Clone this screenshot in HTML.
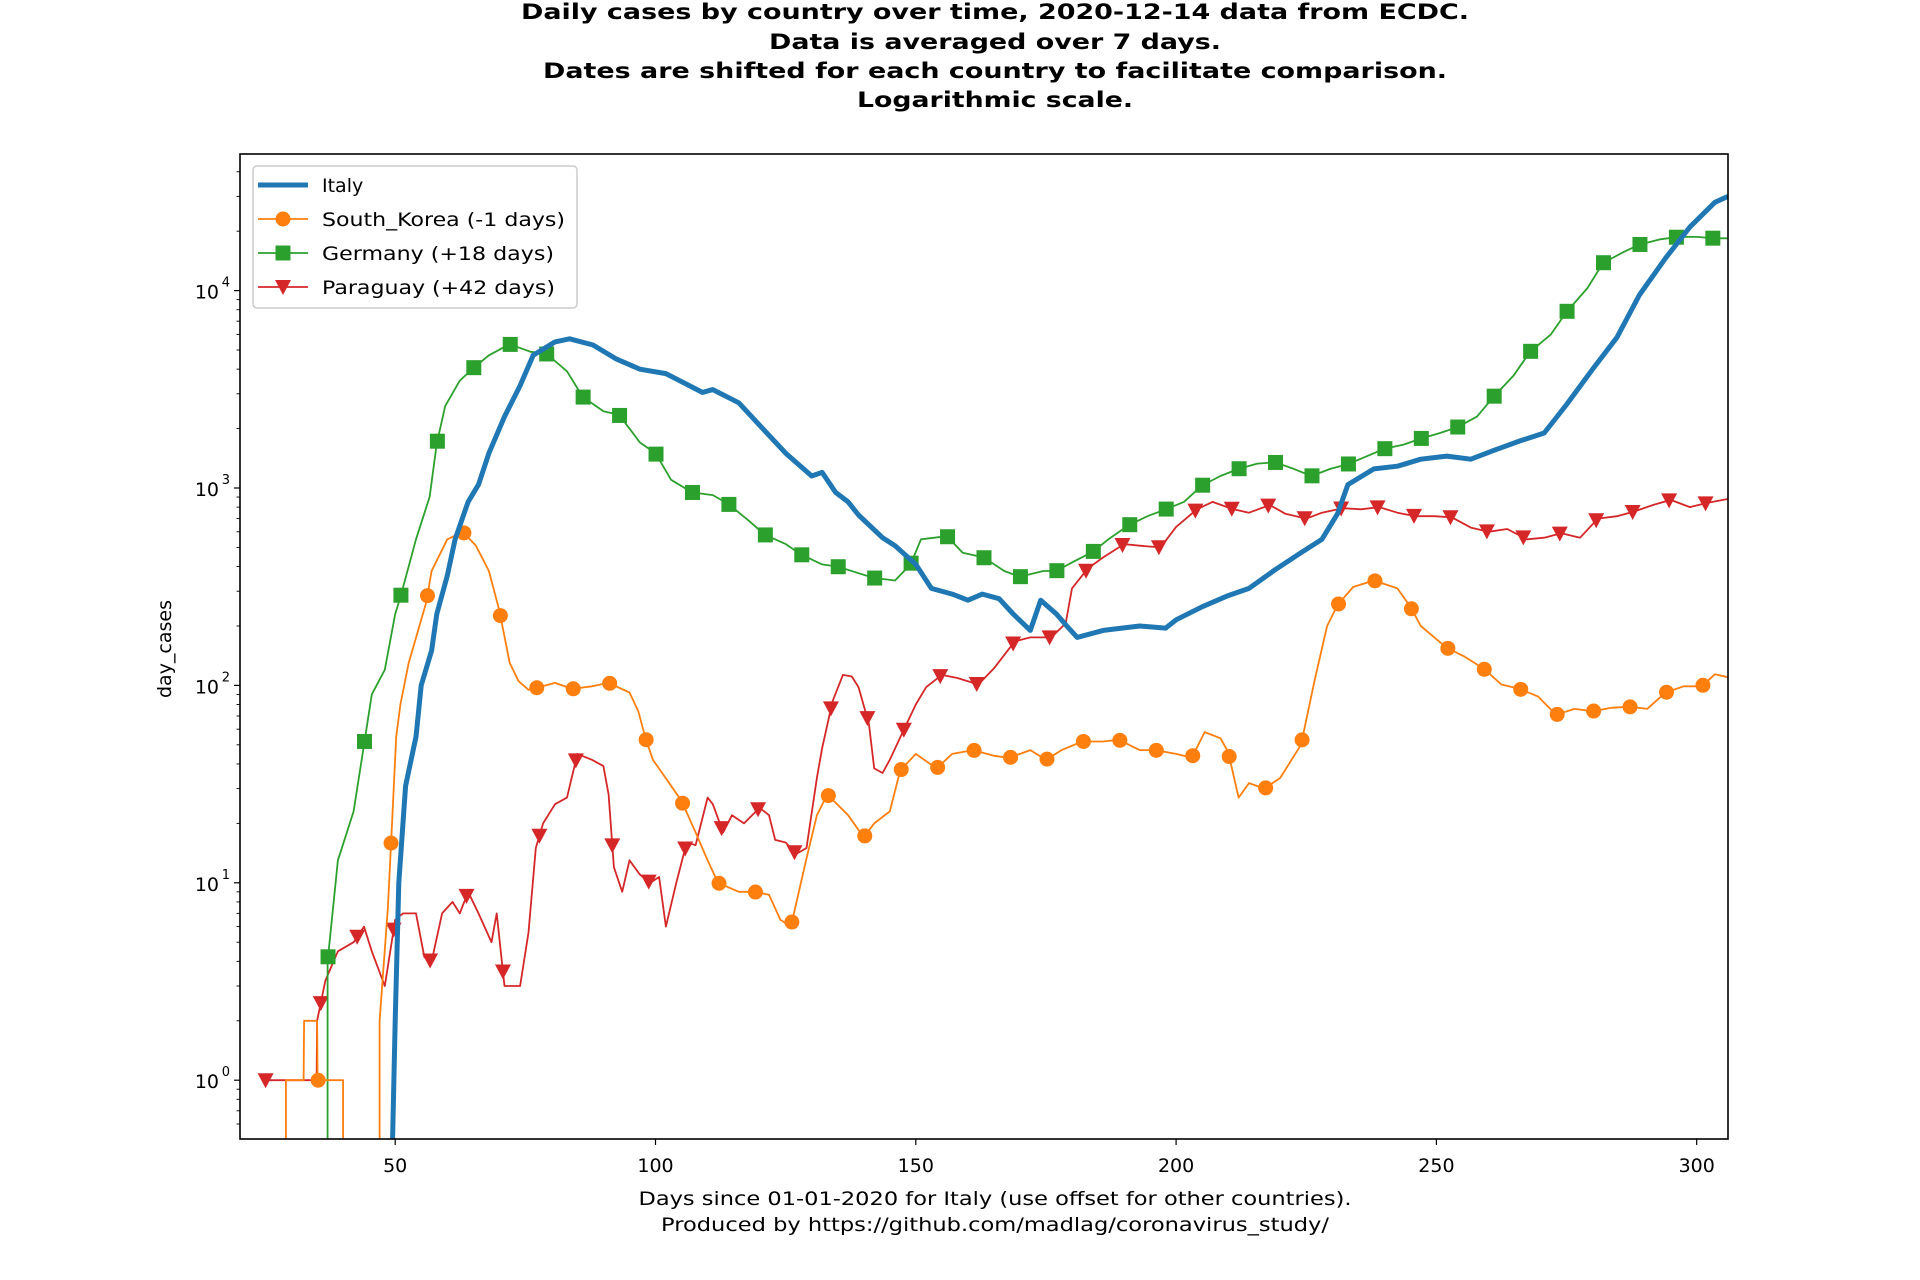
<!DOCTYPE html>
<html><head><meta charset="utf-8"><style>
html,body{margin:0;padding:0;background:#fff;width:1920px;height:1280px;overflow:hidden;}
svg{display:block;overflow:hidden;font-family:"DejaVu Sans","Liberation Sans",sans-serif;}
</style></head><body>
<svg id="chart" width="1920" height="1280" viewBox="0 0 1920 1280" xmlns="http://www.w3.org/2000/svg">
<g font-weight="bold" font-size="21" text-anchor="middle" fill="#000">
<text x="995" y="19" textLength="948" lengthAdjust="spacingAndGlyphs">Daily cases by country over time, 2020-12-14 data from ECDC.</text>
<text x="995" y="49" textLength="452" lengthAdjust="spacingAndGlyphs">Data is averaged over 7 days.</text>
<text x="995" y="78" textLength="904" lengthAdjust="spacingAndGlyphs">Dates are shifted for each country to facilitate comparison.</text>
<text x="995" y="107" textLength="276" lengthAdjust="spacingAndGlyphs">Logarithmic scale.</text>
</g>
<defs><clipPath id="plotclip"><rect x="240" y="154" width="1488" height="985"/></clipPath></defs>
<g id="series" clip-path="url(#plotclip)"></g>
<g id="axes"></g>
<rect x="240" y="154" width="1488" height="985" fill="none" stroke="#000" stroke-width="1.6"/>
<text x="171" y="649" font-size="19" text-anchor="middle" transform="rotate(-90 171 649)">day_cases</text>
<g font-size="19" text-anchor="middle">
<text x="995" y="1205" textLength="713" lengthAdjust="spacingAndGlyphs">Days since 01-01-2020 for Italy (use offset for other countries).</text>
<text x="995" y="1231" textLength="668" lengthAdjust="spacingAndGlyphs">Produced by https://github.com/madlag/coronavirus_study/</text>
</g>
<g id="legend">
<rect x="253" y="166" width="324" height="142" rx="4" fill="#fff" fill-opacity="0.85" stroke="#ccc" stroke-width="1.5"/>
</g>
</svg>
<script>
const italyDays=[49.3,50,50.7,52,54,55,57,58,60,61.5,64,66,68,71,74,76.5,80.7,83.5,88,92.5,97,102,106.5,109,111,116,120.6,125,130,132,134.6,137,139,143.6,146,150,153,157,160,162.8,166,168.7,172,174,177,179,181,186,193,198,200,205,210,214,219,224,228,231,233,238,242.5,247,252,256.6,261,266,270.7,275,280,284.7,289,294,298.7,303.5,306];
const italyVals=[0.3,2,10,31,55,100,150,230,360,550,850,1040,1500,2300,3300,4700,5500,5700,5300,4500,4000,3800,3300,3050,3150,2700,2000,1500,1150,1200,950,850,730,560,510,410,310,290,270,290,275,230,190,270,230,200,175,190,200,195,215,250,285,310,385,470,550,740,1040,1250,1290,1400,1450,1400,1550,1730,1900,2650,4000,5800,9500,14600,21000,28000,30000];
const koreaDays=[29,29.01,32.4,32.5,35,35.1,40,40.01,47,47.01,48.6,49.3,50.2,51,52.6,55,56,57,60,63,65.5,68,70,72,73.7,75.6,77,80.7,84,87.8,91,95,96.7,98,99.5,103,105,107.7,110,112,116,119,121.8,124,126,129,131,133,137,140,142,145,147,150,154,157,161,165,168,172,175,178,182,186,189,193,196,200,203,205.5,208.5,210,212,214,217,220,224,226.6,229,231,234,238,242.5,245,247,249.6,252,255.4,259,262.5,266,269.5,273,276.5,280,283.6,287,290.5,294,297.5,301,303.5,306];
const koreaVals=[0.01,1,1,2,2,1,1,0.01,0.01,2,7.5,18,55,80,130,215,265,380,550,600,510,380,240,130,105,95,97,103,96,99,103,92,74,55,42,31,26,18,13,10,9,9,8.7,6.5,6,13.3,22,28,22,17,20,23,37,45,38,45,47,44,43,47,42,47,52,52,53,47,47,45,43,58,54,46,27,32,30,34,50,106,200,255,315,340,310,250,200,175,155,140,122,101,96,88,71,76,74,77,78,76,92,99,99,114,110];
const germanyDays=[37,37.01,39,42,44,45.5,48,50,51,54,56.6,58,59.6,62.4,65,68,72,76,79,83,86,90,93,97,100,103,107,111,114,118,121,125,128,132,135,139,142,146,149,151,156,159,163,167,170,174.5,177,180,184,187,191,194.5,198,201.5,205,208.5,212,215.6,219,222.6,226,229.6,233,236.7,240,243.7,247,250.7,254,257.8,261,264.8,268,272,275,279,282,286,289,293,296.5,300,303.5,306];
const germanyVals=[0.01,4,13,23,50,90,120,230,280,550,900,1680,2600,3500,4050,4700,5350,4900,4800,3900,2900,2450,2350,1700,1500,1100,950,920,830,680,580,520,460,410,400,370,350,340,410,550,570,470,445,380,355,380,380,420,475,550,650,720,780,850,1030,1150,1250,1330,1350,1250,1150,1250,1320,1450,1580,1660,1780,1900,2030,2300,2900,3700,4900,6000,7800,10300,13800,15700,17100,18200,18700,18700,18400,18400];
const paraguayDays=[25.1,32,34.9,35,36.6,39,42,44,45.5,48,50,51.5,54,55.6,57,59,61,62.4,64,66,68.5,69.5,71,74,75.6,77,78.4,80.7,83,85,87.8,90,91,92,93.6,95,97,99,100.7,102,104,106,107.7,110,111,113,114.7,117,120,121.8,123,125,127,129,131,132,134,136,137.7,139,141,142,143.6,145,148,150,152,155,158,162,165,169,172,176,178.8,180,183,186,190,193,197,200,204,207,211,214,218,221,225,228,232,235.5,239,242.5,246,249.6,253,256.6,260,263.6,267.4,270.7,274,277.6,281,284.7,288,291.6,295,298.7,302,306];
const paraguayVals=[1,1,1,2,3.2,4.5,5,6,4.5,3,6.5,7,7,4.2,4,7,8,7,9,7,5,7,3,3,5.6,15,20,25,27,45,42,39,28,12,9,13,11,10,10.7,6,10,16,15.5,27,25,18,22,20,24,22,16.5,16,14,15,34,48,83,113,111,98,64,38,36,42,62,80,98,113,109,101,122,167,175,175,206,310,390,445,520,510,500,635,780,850,780,750,820,740,700,750,790,780,800,750,720,720,710,630,600,620,550,560,590,560,700,720,760,820,870,800,840,880];
const koreaMarkStart=35.2, germanyMarkStart=37.1, paraguayMarkStart=35.7, paraguayExtraMark=[25.1], markStep=7;
const xTicks=[50,100,150,200,250,300];
const yTickExps=[0,1,2,3,4];

const NS="http://www.w3.org/2000/svg";
const X0=240,X1=1728,Y0=154,Y1=1139;
function xs(d){return 395.2+(d-50)*5.206;}
function ys(v){return 1080.2-Math.log10(Math.max(v,0.01))*197.4;}
function mk(tag,attrs,parent){const e=document.createElementNS(NS,tag);for(const k in attrs)e.setAttribute(k,attrs[k]);parent.appendChild(e);return e;}
function interp(days,vals,d){
  for(let i=0;i<days.length-1;i++){if(d>=days[i]&&d<=days[i+1]){const t=(d-days[i])/((days[i+1]-days[i])||1);const a=Math.log10(Math.max(vals[i],0.01)),b=Math.log10(Math.max(vals[i+1],0.01));return Math.pow(10,a+(b-a)*t);}}
  return null;
}
const series=document.getElementById('series');
function marker(type,x,y,color,g){
  let m;
  if(type==='circle'){m=mk('circle',{cx:x,cy:y,r:7.5,fill:color},g);}
  else if(type==='square'){m=mk('rect',{x:x-7.5,y:y-7.5,width:15,height:15,fill:color},g);}
  else {m=mk('polygon',{points:(x-8)+','+(y-7)+' '+(x+8)+','+(y-7)+' '+x+','+(y+8),fill:color},g);}
  return m;
}
function drawSeries(name,days,vals,color,width,mtype,mdays){
  const g=mk('g',{},series);
  
  
  const pts=days.map((d,i)=>xs(d).toFixed(1)+','+ys(vals[i]).toFixed(1)).join(' ');
  const pl=mk('polyline',{points:pts,fill:'none',stroke:color,'stroke-width':width,'stroke-linejoin':'round'},g);
  
  
  if(mtype){mdays.forEach(d=>{const v=interp(days,vals,d);if(v===null||v<0.5)return;const m=marker(mtype,xs(d),ys(v),color,g);
    
    });}
}
function markDays(start,days){const r=[];for(let d=start;d<=days[days.length-1];d+=markStep)r.push(d);return r;}
drawSeries('paraguay',paraguayDays,paraguayVals,'#d62728',1.8,'tri',paraguayExtraMark.concat(markDays(paraguayMarkStart,paraguayDays)));
drawSeries('germany',germanyDays,germanyVals,'#2ca02c',1.8,'square',markDays(germanyMarkStart,germanyDays));
drawSeries('south-korea',koreaDays,koreaVals,'#ff7f0e',1.8,'circle',markDays(koreaMarkStart,koreaDays));
drawSeries('italy',italyDays,italyVals,'#1f77b4',5,null,[]);

const axes=document.getElementById('axes');
xTicks.forEach(t=>{const x=xs(t);
  const l=mk('line',{x1:x,x2:x,y1:Y1,y2:Y1+6,stroke:'#000','stroke-width':1.2},axes);
  
  
  const tx=mk('text',{x:x,y:Y1+33,'font-size':19,'text-anchor':'middle'},axes);tx.textContent=t;
  
  
});
for(let e=-1;e<=4;e++){for(let k=2;k<=9;k++){const v=k*Math.pow(10,e);const y=ys(v);if(y<Y0||y>Y1)continue;
  const l=mk('line',{x1:X0-3.5,x2:X0,y1:y,y2:y,stroke:'#000','stroke-width':0.9},axes);
  
  }}
yTickExps.forEach(e=>{const y=ys(Math.pow(10,e));
  const l=mk('line',{x1:X0-6,x2:X0,y1:y,y2:y,stroke:'#000','stroke-width':1.2},axes);
  
  
  const tx=mk('text',{x:X0-21,y:y+8,'font-size':19,'text-anchor':'end'},axes);tx.textContent='10';
  
  
  const sp=mk('text',{x:X0-10,y:y-4,'font-size':13,'text-anchor':'end'},axes);sp.textContent=String(e);
  
  
});
const legend=document.getElementById('legend');
const legItems=[['Italy','#1f77b4',null],['South_Korea (-1 days)','#ff7f0e','circle'],['Germany (+18 days)','#2ca02c','square'],['Paraguay (+42 days)','#d62728','tri']];
legItems.forEach((it,i)=>{const y=185+i*34;
  const g=mk('g',{},legend);
  
  
  mk('line',{x1:258,x2:308,y1:y,y2:y,stroke:it[1],'stroke-width':it[2]?1.8:5},g);
  if(it[2])marker(it[2],283,y,it[1],g);
  const t=mk('text',{x:322,y:y+7,'font-size':19},g);t.textContent=it[0];
  if(i>0){t.setAttribute('textLength',[0,243,232,233][i]);t.setAttribute('lengthAdjust','spacingAndGlyphs');}
});
</script>
</body></html>
